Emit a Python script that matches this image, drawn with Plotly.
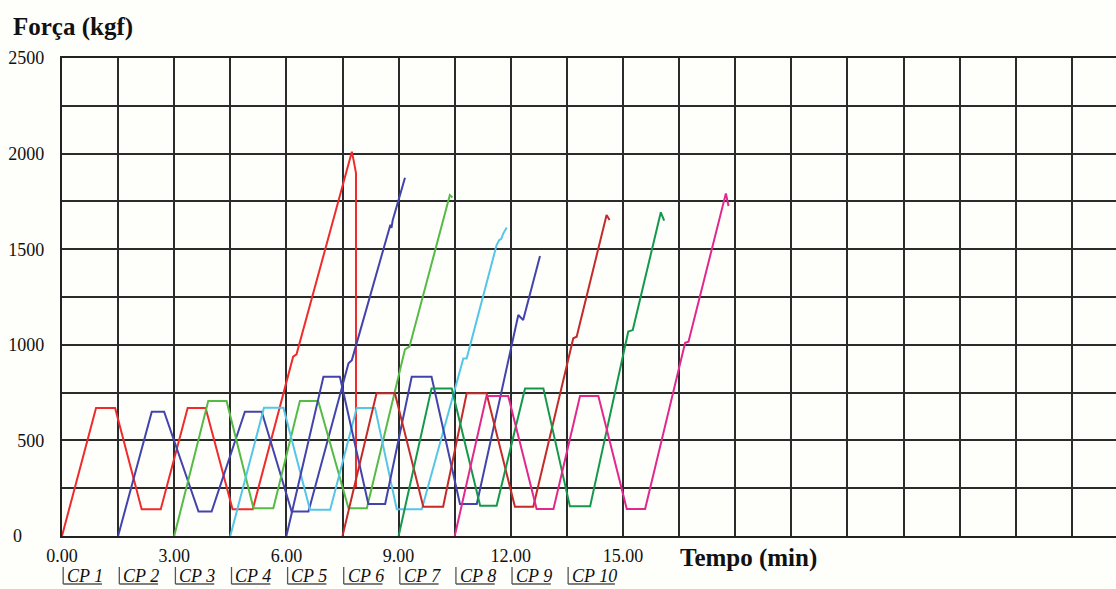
import plotly.graph_objects as go

# Load history of each specimen: time (min) and force (kgf)
cp1_t = [0.00, 0.91, 1.42, 2.13, 2.64, 3.36, 3.84, 4.56, 5.10, 6.18, 6.27, 7.75, 7.80, 7.86, 7.86]
cp1_f = [0, 670, 670, 140, 140, 670, 670, 140, 140, 938, 950, 2010, 1962, 1898, 255]

cp2_t = [1.50, 2.40, 2.73, 3.65, 4.00, 4.89, 5.34, 6.14, 6.59, 7.66, 7.75, 8.78, 8.81, 8.84, 9.17]
cp2_f = [0, 650, 650, 128, 128, 650, 650, 128, 128, 903, 920, 1628, 1612, 1650, 1874]

cp3_t = [3.00, 3.91, 4.40, 5.12, 5.65, 6.36, 6.85, 7.66, 8.15, 9.17, 9.29, 10.37, 10.44]
cp3_f = [0, 706, 706, 145, 145, 706, 706, 145, 145, 976, 990, 1783, 1771]

cp4_t = [4.50, 5.40, 5.92, 6.63, 7.17, 7.88, 8.37, 8.95, 9.62, 10.73, 10.82, 11.62, 11.69, 11.74, 11.80, 11.89]
cp4_f = [0, 671, 671, 137, 137, 670, 670, 140, 140, 929, 929, 1522, 1548, 1553, 1583, 1613]

cp5_t = [6.00, 6.99, 7.43, 8.19, 8.64, 9.35, 9.88, 10.64, 11.09, 12.20, 12.33, 12.78]
cp5_f = [0, 833, 833, 167, 167, 833, 833, 167, 167, 1156, 1130, 1464]

cp6_t = [7.50, 8.41, 8.90, 9.66, 10.19, 10.82, 11.35, 12.11, 12.60, 13.67, 13.76, 14.56, 14.64]
cp6_f = [0, 746, 746, 153, 153, 746, 746, 153, 153, 1034, 1042, 1679, 1653]

cp7_t = [9.00, 9.88, 10.42, 11.18, 11.62, 12.38, 12.87, 13.58, 14.12, 15.14, 15.26, 16.01, 16.10]
cp7_f = [0, 772, 772, 158, 158, 772, 772, 155, 155, 1069, 1077, 1693, 1649]

cp8_t = [10.50, 11.35, 11.93, 12.69, 13.14, 13.85, 14.34, 15.10, 15.59, 16.66, 16.75, 17.75, 17.82]
cp8_f = [0, 732, 732, 141, 141, 732, 732, 141, 141, 1011, 1016, 1792, 1726]

series = [
    (cp1_t, cp1_f, "#ef2b2b"),
    (cp2_t, cp2_f, "#4343ad"),
    (cp3_t, cp3_f, "#55bb45"),
    (cp4_t, cp4_f, "#55c6e8"),
    (cp5_t, cp5_f, "#4343ad"),
    (cp6_t, cp6_f, "#c42a2a"),
    (cp7_t, cp7_f, "#14984c"),
    (cp8_t, cp8_f, "#e2288c"),
]

# Axis ticks
x_tickvals = [0, 1.5, 3, 4.5, 6, 7.5, 9, 10.5, 12, 13.5, 15, 16.5, 18, 19.5, 21, 22.5, 24, 25.5, 27]
x_ticktext = ["0.00", "", "3.00", "", "6.00", "", "9.00", "", "12.00", "", "15.00",
              "", "", "", "", "", "", "", ""]
y_tickvals = [0, 250, 500, 750, 1000, 1250, 1500, 1750, 2000, 2250, 2500]
y_ticktext = ["", "", "500", "", "1000", "", "1500", "", "2000", "", "2500"]

# Specimen labels under the time axis
cp_labels = ["CP 1", "CP 2", "CP 3", "CP 4", "CP 5", "CP 6", "CP 7", "CP 8", "CP 9", "CP 10"]
cp_starts = [0, 1.5, 3, 4.5, 6, 7.5, 9, 10.5, 12, 13.5]

SERIF = "Liberation Serif, Times New Roman, serif"
INK = "#111111"
W, H = 1116, 589
L, R, T, B = 62, 0, 58, 53
px_per_min = (W - L - R) / 28.18

fig = go.Figure()
for t, f, c in series:
    fig.add_trace(go.Scatter(x=t, y=f, mode="lines",
                             line=dict(color=c, width=2), showlegend=False))

fig.update_layout(
    width=W, height=H,
    margin=dict(l=L, r=R, t=T, b=B),
    paper_bgcolor="#fefefb",
    plot_bgcolor="#fefefb",
    font=dict(family=SERIF, size=18, color=INK),
)
fig.update_xaxes(
    range=[0, 28.18], tickmode="array", tickvals=x_tickvals, ticktext=x_ticktext,
    showgrid=True, gridcolor="#2b2b2b", gridwidth=1.7,
    showline=True, linecolor="#222222", linewidth=2.2, mirror=True,
    zeroline=False, ticks="", ticklabelstandoff=2,
    tickfont=dict(family=SERIF, size=18, color=INK),
)
fig.update_yaxes(
    range=[0, 2500], tickmode="array", tickvals=y_tickvals, ticktext=y_ticktext,
    showgrid=True, gridcolor="#2b2b2b", gridwidth=1.7,
    showline=True, linecolor="#222222", linewidth=2.2, mirror=False,
    zeroline=False, ticks="", ticklabelstandoff=12,
    tickfont=dict(family=SERIF, size=18, color=INK),
)

# Axis titles
fig.add_annotation(text="<b>Força (kgf)</b>", xref="paper", yref="paper",
                   x=-(L - 11) / (W - L), y=1 + (T - 27) / (H - T - B),
                   xanchor="left", yanchor="middle", showarrow=False,
                   font=dict(family=SERIF, size=25, color=INK))
fig.add_annotation(text="<b>Tempo (min)</b>", xref="paper", yref="paper",
                   x=(678 - L) / (W - L), y=-(558 - (H - B)) / (H - T - B),
                   xanchor="left", yanchor="middle", showarrow=False,
                   font=dict(family=SERIF, size=25, color=INK))
# zero label of the force axis
fig.add_annotation(text="0", xref="paper", yref="y", x=-(L - 11) / (W - L), y=0,
                   xanchor="left", yanchor="middle", showarrow=False,
                   font=dict(family=SERIF, size=18, color=INK))

# Specimen labels with bracket underline
plot_h = H - T - B
y_top = -(567 - (H - B)) / plot_h
y_bot = -(584 - (H - B)) / plot_h
y_txt = -(576 - (H - B)) / plot_h
for lab, x0 in zip(cp_labels, cp_starts):
    xb = x0 + 1.2 / px_per_min
    xe = x0 + (8 * len(lab) + 8) / px_per_min
    fig.add_shape(type="line", xref="x", yref="paper", x0=xb, x1=xb, y0=y_top, y1=y_bot,
                  line=dict(color="#555555", width=1.3))
    fig.add_shape(type="line", xref="x", yref="paper", x0=xb, x1=xe, y0=y_bot, y1=y_bot,
                  line=dict(color="#555555", width=1.3))
    fig.add_annotation(text="<i>" + lab + "</i>", xref="x", yref="paper", x=x0, y=y_txt,
                       xanchor="left", yanchor="middle", xshift=3, showarrow=False,
                       font=dict(family=SERIF, size=18, color=INK))

fig.write_html("out.html")
